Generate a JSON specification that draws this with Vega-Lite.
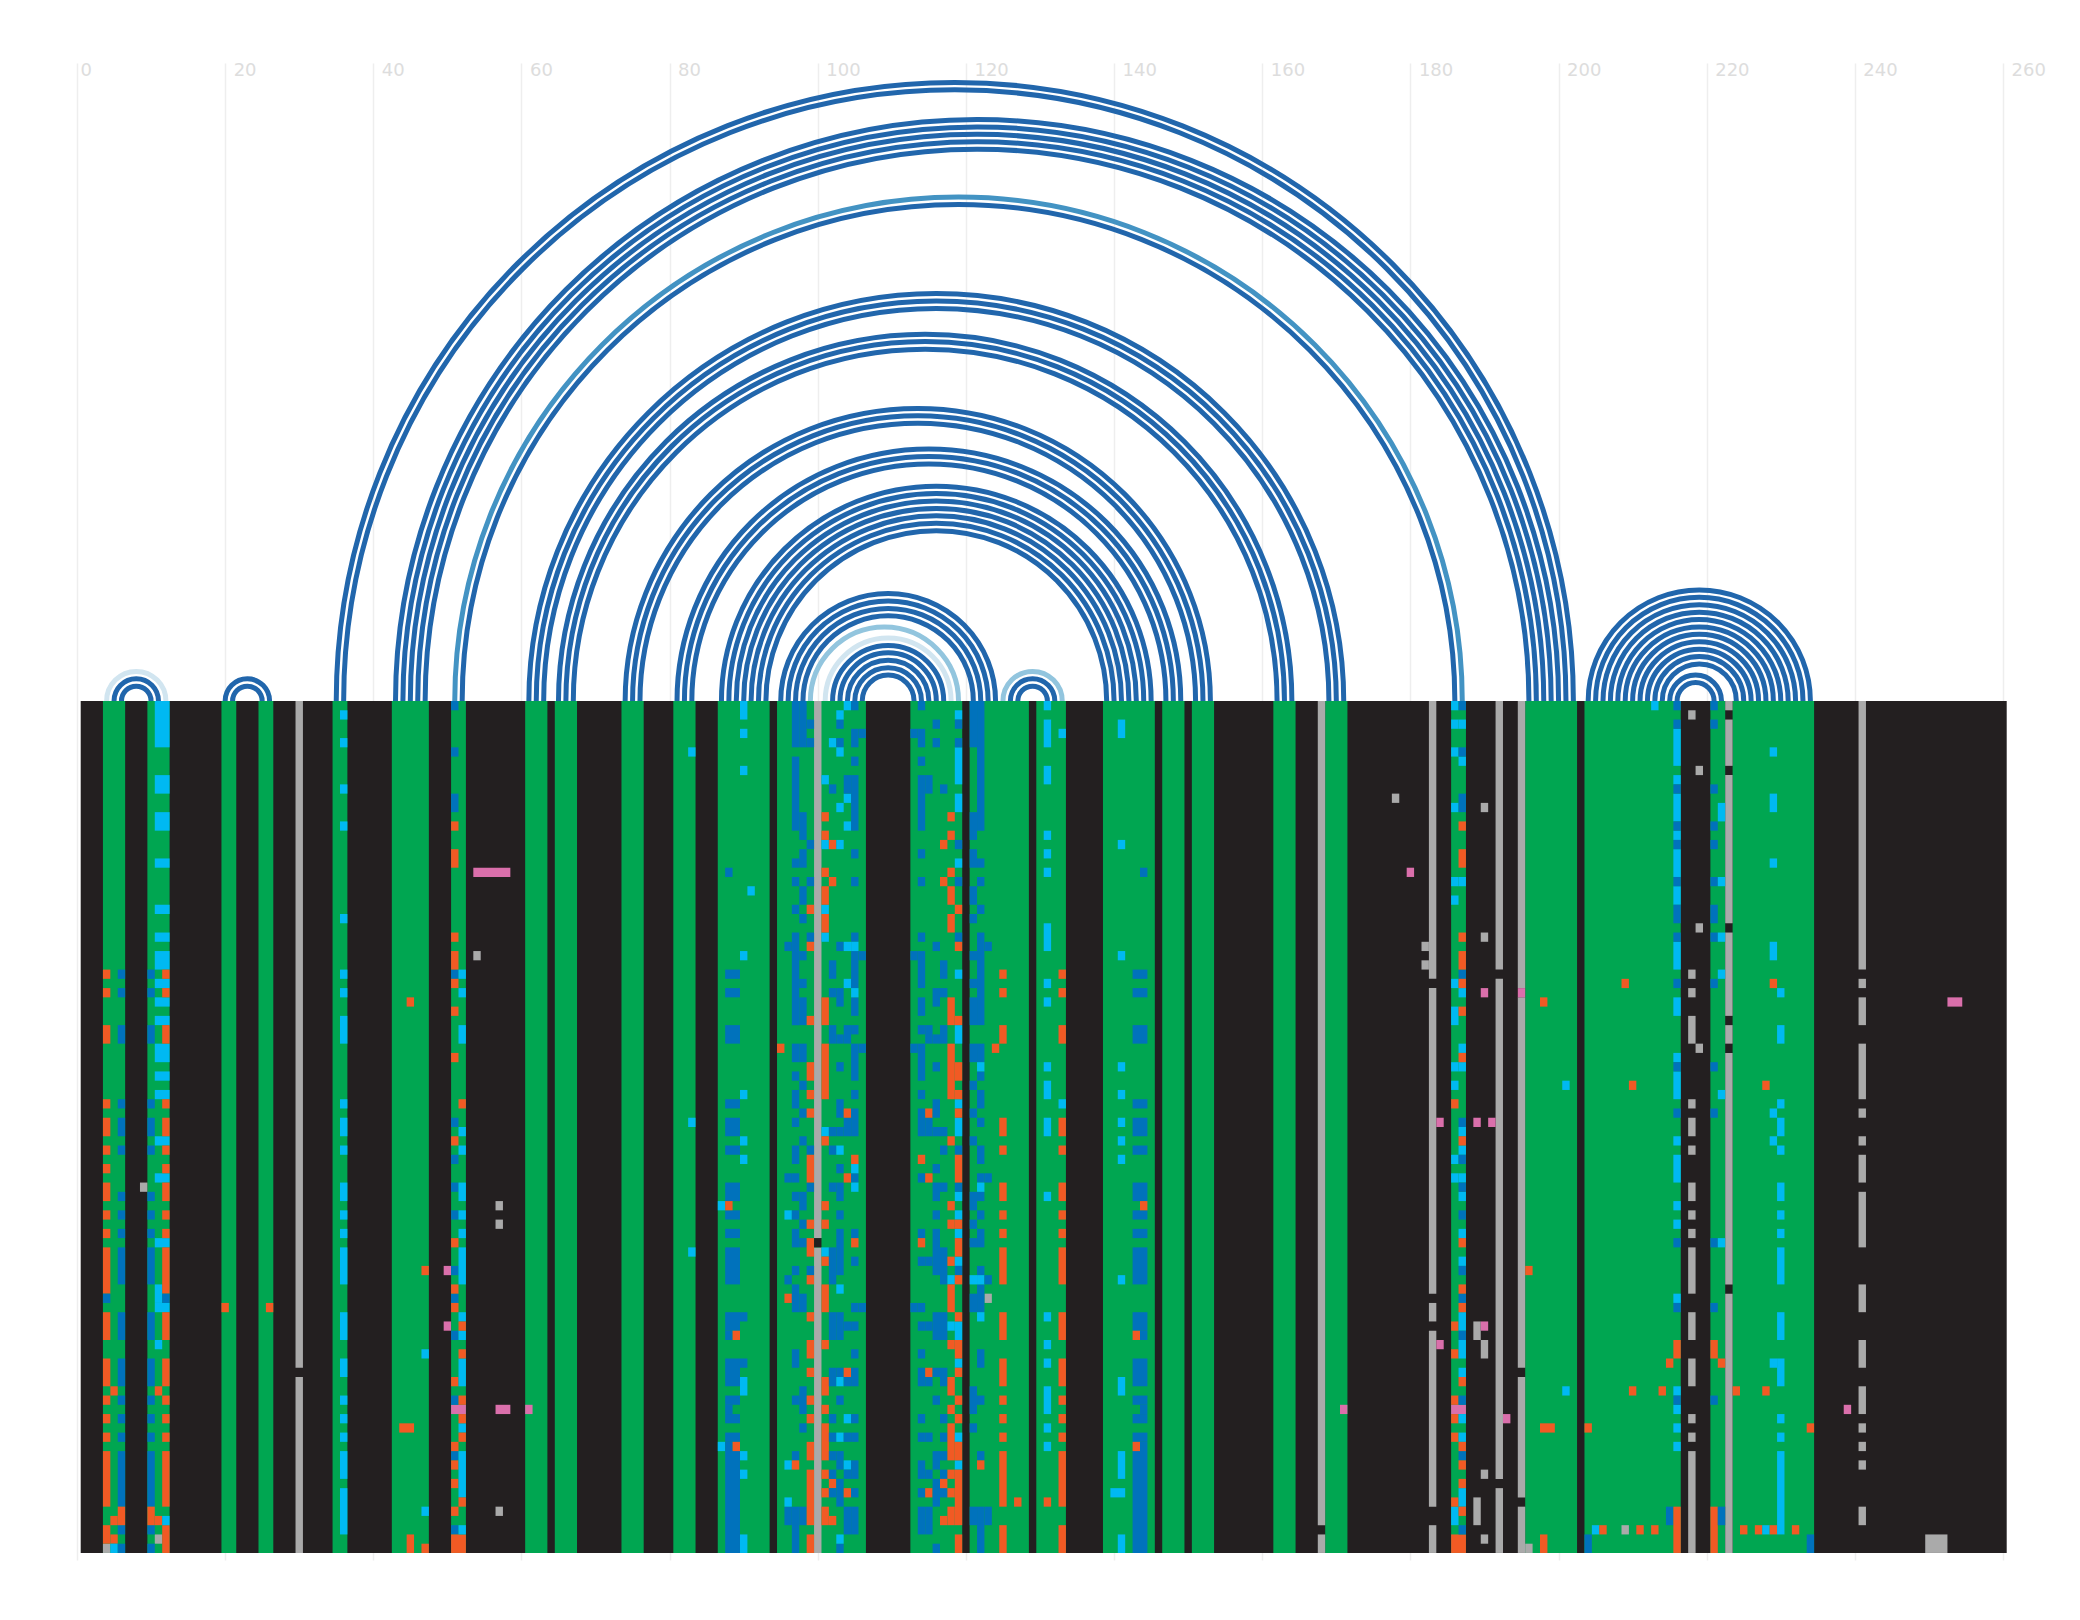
{"$schema":"https://vega.github.io/schema/vega-lite/v6.json","width":1926,"height":1497,"autosize":{"type":"none"},"padding":{"left":77,"top":63,"right":77,"bottom":60},"background":"white","view":{"stroke":null},
"layer":[
{"data":{"values":[
{"m":8,"r":4,"t":"L2"},{"m":8,"r":3,"t":"D"},{"m":8,"r":2,"t":"D"},{"m":23,"r":3,"t":"D"},{"m":23,"r":2,"t":"D"},
{"m":118.5,"r":83.5,"t":"D"},{"m":118.5,"r":82.5,"t":"D"},{"m":121.5,"r":78.5,"t":"D"},{"m":121.5,"r":77.5,"t":"D"},{"m":121.5,"r":76.5,"t":"D"},{"m":121.5,"r":75.5,"t":"D"},{"m":121.5,"r":74.5,"t":"D"},
{"m":119,"r":68,"t":"M"},{"m":119,"r":67,"t":"D"},
{"m":116,"r":55,"t":"D"},{"m":116,"r":54,"t":"D"},{"m":116,"r":53,"t":"D"},{"m":114.5,"r":49.5,"t":"D"},{"m":114.5,"r":48.5,"t":"D"},{"m":114.5,"r":47.5,"t":"D"},
{"m":113.5,"r":39.5,"t":"D"},{"m":113.5,"r":38.5,"t":"D"},{"m":113.5,"r":37.5,"t":"D"},{"m":115,"r":34,"t":"D"},{"m":115,"r":33,"t":"D"},{"m":115,"r":32,"t":"D"},
{"m":116,"r":29,"t":"D"},{"m":116,"r":28,"t":"D"},{"m":116,"r":27,"t":"D"},{"m":116,"r":26,"t":"D"},{"m":116,"r":25,"t":"D"},{"m":116,"r":24,"t":"D"},{"m":116,"r":23,"t":"D"},
{"m":109.5,"r":14.5,"t":"D"},{"m":109.5,"r":13.5,"t":"D"},{"m":109.5,"r":12.5,"t":"D"},{"m":109.5,"r":11.5,"t":"D"},{"m":109,"r":10,"t":"L1"},{"m":109.5,"r":8.5,"t":"L2"},{"m":109.5,"r":7.5,"t":"D"},{"m":109.5,"r":6.5,"t":"D"},{"m":109.5,"r":5.5,"t":"D"},{"m":109.5,"r":4.5,"t":"D"},{"m":109.5,"r":3.5,"t":"D"},
{"m":129,"r":4,"t":"L1"},{"m":129,"r":3,"t":"D"},{"m":129,"r":2,"t":"D"},
{"m":219,"r":15,"t":"D"},{"m":219,"r":14,"t":"D"},{"m":219,"r":13,"t":"D"},{"m":219,"r":12,"t":"D"},{"m":219,"r":11,"t":"D"},{"m":219,"r":10,"t":"D"},{"m":219,"r":9,"t":"D"},{"m":219,"r":8,"t":"D"},{"m":219,"r":7,"t":"D"},{"m":219,"r":6,"t":"D"},{"m":219,"r":5,"t":"D"},{"m":218.5,"r":3.5,"t":"D"},{"m":218.5,"r":2.5,"t":"D"}
]},
"mark":{"type":"arc","filled":false,"strokeWidth":5,"theta":-1.5708,"theta2":1.5708},
"encoding":{
"x":{"field":"m","type":"quantitative","stack":null,"title":null,"scale":{"domain":[0,260],"nice":false,"zero":false},"axis":{"orient":"top","values":[0,20,40,60,80,100,120,140,160,180,200,220,240,260],"title":null,"domain":false,"ticks":false,"grid":true,"gridColor":"#eeeeee","gridWidth":1.5,"labelColor":"#dddddd","labelFont":"DejaVu Sans","labelFontSize":18,"labelAlign":"left","labelBaseline":"middle","labelPadding":-7,"labelOffset":{"condition":{"test":"datum.value<10","value":3},"value":8},"labelOverlap":false,"labelFlush":false,"labelBound":false,"zindex":0}},
"y":{"datum":0,"type":"quantitative","stack":null,"scale":{"domain":[-68.9,92.76],"reverse":true,"nice":false,"zero":false},"axis":null},
"radius":{"field":"r","type":"quantitative","stack":null,"scale":{"type":"linear","domain":[0,100],"range":[0,740.8],"zero":true,"nice":false}},
"radius2":{"field":"r"},
"stroke":{"field":"t","type":"nominal","legend":null,"scale":{"domain":["D","M","L1","L2"],"range":["#2166ac","#4393c3","#92c5de","#d1e5f0"]}}
}},
{"data":{"values":[
{"a":0.5,"b":260.5,"r":0,"s":92,"k":"K"},
{"a":3.5,"b":6.5,"r":0,"s":92,"k":"N"},{"a":9.5,"b":12.5,"r":0,"s":92,"k":"N"},{"a":19.5,"b":21.5,"r":0,"s":92,"k":"N"},{"a":24.5,"b":26.5,"r":0,"s":92,"k":"N"},{"a":34.5,"b":36.5,"r":0,"s":92,"k":"N"},{"a":42.5,"b":47.5,"r":0,"s":92,"k":"N"},{"a":50.5,"b":52.5,"r":0,"s":92,"k":"N"},{"a":60.5,"b":63.5,"r":0,"s":92,"k":"N"},{"a":64.5,"b":67.5,"r":0,"s":92,"k":"N"},{"a":73.5,"b":76.5,"r":0,"s":92,"k":"N"},{"a":80.5,"b":83.5,"r":0,"s":92,"k":"N"},{"a":86.5,"b":93.5,"r":0,"s":92,"k":"N"},{"a":94.5,"b":106.5,"r":0,"s":92,"k":"N"},{"a":112.5,"b":119.5,"r":0,"s":92,"k":"N"},{"a":120.5,"b":128.5,"r":0,"s":92,"k":"N"},{"a":129.5,"b":133.5,"r":0,"s":92,"k":"N"},{"a":138.5,"b":145.5,"r":0,"s":92,"k":"N"},{"a":146.5,"b":149.5,"r":0,"s":92,"k":"N"},{"a":150.5,"b":153.5,"r":0,"s":92,"k":"N"},{"a":161.5,"b":164.5,"r":0,"s":92,"k":"N"},{"a":168.5,"b":171.5,"r":0,"s":92,"k":"N"},{"a":185.5,"b":187.5,"r":0,"s":92,"k":"N"},{"a":195.5,"b":202.5,"r":0,"s":92,"k":"N"},{"a":203.5,"b":216.5,"r":0,"s":92,"k":"N"},{"a":220.5,"b":222.5,"r":0,"s":92,"k":"N"},{"a":223.5,"b":234.5,"r":0,"s":92,"k":"N"},
{"a":29.5,"b":30.5,"r":0,"s":72,"k":"G"},{"a":29.5,"b":30.5,"r":73,"s":92,"k":"G"},
{"a":99.5,"b":100.5,"r":0,"s":58,"k":"G"},{"a":99.5,"b":100.5,"r":59,"s":92,"k":"G"},
{"a":167.5,"b":168.5,"r":0,"s":89,"k":"G"},{"a":167.5,"b":168.5,"r":90,"s":92,"k":"G"},
{"a":182.5,"b":183.5,"r":0,"s":30,"k":"G"},{"a":182.5,"b":183.5,"r":31,"s":64,"k":"G"},{"a":182.5,"b":183.5,"r":65,"s":67,"k":"G"},{"a":182.5,"b":183.5,"r":68,"s":87,"k":"G"},{"a":182.5,"b":183.5,"r":89,"s":92,"k":"G"},
{"a":181.5,"b":182.5,"r":26,"s":27,"k":"G"},{"a":181.5,"b":182.5,"r":28,"s":29,"k":"G"},
{"a":191.5,"b":192.5,"r":0,"s":29,"k":"G"},{"a":191.5,"b":192.5,"r":30,"s":84,"k":"G"},{"a":191.5,"b":192.5,"r":85,"s":92,"k":"G"},
{"a":194.5,"b":195.5,"r":0,"s":31,"k":"G"},{"a":194.5,"b":195.5,"r":32,"s":72,"k":"G"},{"a":194.5,"b":195.5,"r":73,"s":86,"k":"G"},{"a":194.5,"b":195.5,"r":87,"s":92,"k":"G"},{"a":195.5,"b":196.5,"r":91,"s":92,"k":"G"},
{"a":222.5,"b":223.5,"r":0,"s":1,"k":"G"},{"a":222.5,"b":223.5,"r":2,"s":7,"k":"G"},{"a":222.5,"b":223.5,"r":8,"s":24,"k":"G"},{"a":222.5,"b":223.5,"r":25,"s":34,"k":"G"},{"a":222.5,"b":223.5,"r":35,"s":37,"k":"G"},{"a":222.5,"b":223.5,"r":38,"s":63,"k":"G"},{"a":222.5,"b":223.5,"r":64,"s":92,"k":"G"},
{"a":240.5,"b":241.5,"r":0,"s":29,"k":"G"},{"a":240.5,"b":241.5,"r":30,"s":31,"k":"G"},{"a":240.5,"b":241.5,"r":32,"s":35,"k":"G"},{"a":240.5,"b":241.5,"r":37,"s":43,"k":"G"},{"a":240.5,"b":241.5,"r":44,"s":45,"k":"G"},{"a":240.5,"b":241.5,"r":47,"s":48,"k":"G"},{"a":240.5,"b":241.5,"r":49,"s":52,"k":"G"},{"a":240.5,"b":241.5,"r":53,"s":59,"k":"G"},{"a":240.5,"b":241.5,"r":63,"s":66,"k":"G"},{"a":240.5,"b":241.5,"r":69,"s":72,"k":"G"},{"a":240.5,"b":241.5,"r":74,"s":77,"k":"G"},{"a":240.5,"b":241.5,"r":78,"s":79,"k":"G"},{"a":240.5,"b":241.5,"r":80,"s":81,"k":"G"},{"a":240.5,"b":241.5,"r":82,"s":83,"k":"G"},{"a":240.5,"b":241.5,"r":87,"s":89,"k":"G"},
{"a":217.5,"b":218.5,"r":1,"s":2,"k":"G"},{"a":217.5,"b":218.5,"r":29,"s":30,"k":"G"},{"a":217.5,"b":218.5,"r":31,"s":32,"k":"G"},{"a":217.5,"b":218.5,"r":34,"s":37,"k":"G"},{"a":217.5,"b":218.5,"r":43,"s":44,"k":"G"},{"a":217.5,"b":218.5,"r":45,"s":47,"k":"G"},{"a":217.5,"b":218.5,"r":48,"s":49,"k":"G"},{"a":217.5,"b":218.5,"r":52,"s":54,"k":"G"},{"a":217.5,"b":218.5,"r":55,"s":56,"k":"G"},{"a":217.5,"b":218.5,"r":57,"s":58,"k":"G"},{"a":217.5,"b":218.5,"r":59,"s":64,"k":"G"},{"a":217.5,"b":218.5,"r":66,"s":69,"k":"G"},{"a":217.5,"b":218.5,"r":71,"s":74,"k":"G"},{"a":217.5,"b":218.5,"r":77,"s":78,"k":"G"},{"a":217.5,"b":218.5,"r":79,"s":80,"k":"G"},{"a":217.5,"b":218.5,"r":81,"s":92,"k":"G"},
{"a":218.5,"b":219.5,"r":7,"s":8,"k":"G"},{"a":218.5,"b":219.5,"r":24,"s":25,"k":"G"},{"a":218.5,"b":219.5,"r":37,"s":38,"k":"G"},
{"a":188.5,"b":189.5,"r":67,"s":69,"k":"G"},{"a":188.5,"b":189.5,"r":86,"s":89,"k":"G"},
{"a":189.5,"b":190.5,"r":11,"s":12,"k":"G"},{"a":189.5,"b":190.5,"r":25,"s":26,"k":"G"},{"a":189.5,"b":190.5,"r":69,"s":71,"k":"G"},{"a":189.5,"b":190.5,"r":83,"s":84,"k":"G"},{"a":189.5,"b":190.5,"r":90,"s":91,"k":"G"},
{"a":249.5,"b":252.5,"r":90,"s":92,"k":"G"},{"a":177.5,"b":178.5,"r":10,"s":11,"k":"G"},
{"a":8.5,"b":9.5,"r":52,"s":53,"k":"G"},{"a":53.5,"b":54.5,"r":27,"s":28,"k":"G"},{"a":56.5,"b":57.5,"r":54,"s":55,"k":"G"},{"a":56.5,"b":57.5,"r":56,"s":57,"k":"G"},{"a":56.5,"b":57.5,"r":87,"s":88,"k":"G"},
{"a":122.5,"b":123.5,"r":64,"s":65,"k":"G"},{"a":208.5,"b":209.5,"r":89,"s":90,"k":"G"},{"a":3.5,"b":4.5,"r":91,"s":92,"k":"G"},{"a":10.5,"b":11.5,"r":90,"s":91,"k":"G"},
{"a":53.5,"b":58.5,"r":18,"s":19,"k":"P"},{"a":56.5,"b":58.5,"r":76,"s":77,"k":"P"},{"a":60.5,"b":61.5,"r":76,"s":77,"k":"P"},{"a":49.5,"b":50.5,"r":61,"s":62,"k":"P"},{"a":49.5,"b":50.5,"r":67,"s":68,"k":"P"},{"a":50.5,"b":52.5,"r":76,"s":77,"k":"P"},{"a":170.5,"b":171.5,"r":76,"s":77,"k":"P"},{"a":179.5,"b":180.5,"r":18,"s":19,"k":"P"},{"a":183.5,"b":184.5,"r":45,"s":46,"k":"P"},{"a":183.5,"b":184.5,"r":69,"s":70,"k":"P"},{"a":188.5,"b":189.5,"r":45,"s":46,"k":"P"},{"a":190.5,"b":191.5,"r":45,"s":46,"k":"P"},{"a":189.5,"b":190.5,"r":31,"s":32,"k":"P"},{"a":189.5,"b":190.5,"r":67,"s":68,"k":"P"},{"a":192.5,"b":193.5,"r":77,"s":78,"k":"P"},{"a":194.5,"b":195.5,"r":31,"s":32,"k":"P"},{"a":238.5,"b":239.5,"r":76,"s":77,"k":"P"},{"a":252.5,"b":254.5,"r":32,"s":33,"k":"P"},{"a":185.5,"b":187.5,"r":76,"s":77,"k":"P"},
{"a":3.5,"b":4.5,"r":29,"s":30,"k":"O"},{"a":3.5,"b":4.5,"r":31,"s":32,"k":"O"},{"a":3.5,"b":4.5,"r":35,"s":37,"k":"O"},{"a":3.5,"b":4.5,"r":43,"s":44,"k":"O"},{"a":3.5,"b":4.5,"r":45,"s":47,"k":"O"},{"a":3.5,"b":4.5,"r":48,"s":49,"k":"O"},{"a":3.5,"b":4.5,"r":50,"s":51,"k":"O"},{"a":3.5,"b":4.5,"r":52,"s":54,"k":"O"},{"a":3.5,"b":4.5,"r":55,"s":56,"k":"O"},{"a":3.5,"b":4.5,"r":57,"s":58,"k":"O"},{"a":3.5,"b":4.5,"r":59,"s":64,"k":"O"},{"a":3.5,"b":4.5,"r":66,"s":69,"k":"O"},{"a":3.5,"b":4.5,"r":71,"s":74,"k":"O"},{"a":3.5,"b":4.5,"r":75,"s":76,"k":"O"},{"a":3.5,"b":4.5,"r":77,"s":78,"k":"O"},{"a":3.5,"b":4.5,"r":79,"s":80,"k":"O"},{"a":3.5,"b":4.5,"r":81,"s":87,"k":"O"},{"a":3.5,"b":4.5,"r":89,"s":91,"k":"O"},{"a":3.5,"b":4.5,"r":64,"s":65,"k":"B"},
{"a":4.5,"b":5.5,"r":74,"s":75,"k":"O"},{"a":4.5,"b":5.5,"r":88,"s":89,"k":"O"},{"a":4.5,"b":5.5,"r":90,"s":91,"k":"O"},{"a":4.5,"b":5.5,"r":91,"s":92,"k":"C"},
{"a":5.5,"b":6.5,"r":29,"s":30,"k":"B"},{"a":5.5,"b":6.5,"r":31,"s":32,"k":"B"},{"a":5.5,"b":6.5,"r":35,"s":37,"k":"B"},{"a":5.5,"b":6.5,"r":43,"s":44,"k":"B"},{"a":5.5,"b":6.5,"r":45,"s":47,"k":"B"},{"a":5.5,"b":6.5,"r":48,"s":49,"k":"B"},{"a":5.5,"b":6.5,"r":53,"s":54,"k":"B"},{"a":5.5,"b":6.5,"r":55,"s":56,"k":"B"},{"a":5.5,"b":6.5,"r":57,"s":58,"k":"B"},{"a":5.5,"b":6.5,"r":59,"s":63,"k":"B"},{"a":5.5,"b":6.5,"r":66,"s":69,"k":"B"},{"a":5.5,"b":6.5,"r":71,"s":74,"k":"B"},{"a":5.5,"b":6.5,"r":75,"s":76,"k":"B"},{"a":5.5,"b":6.5,"r":77,"s":78,"k":"B"},{"a":5.5,"b":6.5,"r":79,"s":80,"k":"B"},{"a":5.5,"b":6.5,"r":81,"s":87,"k":"B"},{"a":5.5,"b":6.5,"r":89,"s":90,"k":"B"},{"a":5.5,"b":6.5,"r":91,"s":92,"k":"B"},{"a":5.5,"b":6.5,"r":87,"s":89,"k":"O"},
{"a":9.5,"b":10.5,"r":29,"s":30,"k":"B"},{"a":9.5,"b":10.5,"r":31,"s":32,"k":"B"},{"a":9.5,"b":10.5,"r":35,"s":37,"k":"B"},{"a":9.5,"b":10.5,"r":43,"s":44,"k":"B"},{"a":9.5,"b":10.5,"r":45,"s":47,"k":"B"},{"a":9.5,"b":10.5,"r":48,"s":49,"k":"B"},{"a":9.5,"b":10.5,"r":53,"s":54,"k":"B"},{"a":9.5,"b":10.5,"r":55,"s":56,"k":"B"},{"a":9.5,"b":10.5,"r":57,"s":58,"k":"B"},{"a":9.5,"b":10.5,"r":59,"s":63,"k":"B"},{"a":9.5,"b":10.5,"r":66,"s":69,"k":"B"},{"a":9.5,"b":10.5,"r":71,"s":74,"k":"B"},{"a":9.5,"b":10.5,"r":75,"s":76,"k":"B"},{"a":9.5,"b":10.5,"r":77,"s":78,"k":"B"},{"a":9.5,"b":10.5,"r":79,"s":80,"k":"B"},{"a":9.5,"b":10.5,"r":81,"s":87,"k":"B"},{"a":9.5,"b":10.5,"r":89,"s":90,"k":"B"},{"a":9.5,"b":10.5,"r":91,"s":92,"k":"B"},{"a":9.5,"b":10.5,"r":87,"s":89,"k":"O"},
{"a":10.5,"b":12.5,"r":0,"s":5,"k":"C"},{"a":10.5,"b":12.5,"r":8,"s":10,"k":"C"},{"a":10.5,"b":12.5,"r":12,"s":14,"k":"C"},{"a":10.5,"b":12.5,"r":17,"s":18,"k":"C"},{"a":10.5,"b":12.5,"r":22,"s":23,"k":"C"},{"a":10.5,"b":12.5,"r":25,"s":26,"k":"C"},{"a":10.5,"b":12.5,"r":27,"s":29,"k":"C"},{"a":10.5,"b":12.5,"r":30,"s":31,"k":"C"},{"a":10.5,"b":12.5,"r":32,"s":33,"k":"C"},{"a":10.5,"b":12.5,"r":34,"s":35,"k":"C"},{"a":10.5,"b":12.5,"r":37,"s":39,"k":"C"},{"a":10.5,"b":12.5,"r":40,"s":41,"k":"C"},{"a":10.5,"b":12.5,"r":42,"s":43,"k":"C"},{"a":10.5,"b":12.5,"r":47,"s":48,"k":"C"},{"a":10.5,"b":12.5,"r":51,"s":52,"k":"C"},{"a":10.5,"b":12.5,"r":58,"s":59,"k":"C"},{"a":10.5,"b":12.5,"r":65,"s":66,"k":"C"},{"a":10.5,"b":11.5,"r":63,"s":65,"k":"C"},{"a":10.5,"b":11.5,"r":69,"s":70,"k":"C"},{"a":10.5,"b":11.5,"r":74,"s":75,"k":"O"},{"a":10.5,"b":11.5,"r":88,"s":89,"k":"O"},
{"a":11.5,"b":12.5,"r":29,"s":30,"k":"O"},{"a":11.5,"b":12.5,"r":31,"s":32,"k":"O"},{"a":11.5,"b":12.5,"r":35,"s":37,"k":"O"},{"a":11.5,"b":12.5,"r":43,"s":44,"k":"O"},{"a":11.5,"b":12.5,"r":45,"s":47,"k":"O"},{"a":11.5,"b":12.5,"r":48,"s":49,"k":"O"},{"a":11.5,"b":12.5,"r":50,"s":51,"k":"O"},{"a":11.5,"b":12.5,"r":52,"s":54,"k":"O"},{"a":11.5,"b":12.5,"r":55,"s":56,"k":"O"},{"a":11.5,"b":12.5,"r":57,"s":58,"k":"O"},{"a":11.5,"b":12.5,"r":59,"s":64,"k":"O"},{"a":11.5,"b":12.5,"r":66,"s":69,"k":"O"},{"a":11.5,"b":12.5,"r":71,"s":74,"k":"O"},{"a":11.5,"b":12.5,"r":75,"s":76,"k":"O"},{"a":11.5,"b":12.5,"r":77,"s":78,"k":"O"},{"a":11.5,"b":12.5,"r":79,"s":80,"k":"O"},{"a":11.5,"b":12.5,"r":81,"s":87,"k":"O"},{"a":11.5,"b":12.5,"r":89,"s":92,"k":"O"},{"a":11.5,"b":12.5,"r":64,"s":65,"k":"B"},{"a":11.5,"b":12.5,"r":88,"s":89,"k":"C"},
{"a":19.5,"b":20.5,"r":65,"s":66,"k":"O"},{"a":25.5,"b":26.5,"r":65,"s":66,"k":"O"},
{"a":35.5,"b":36.5,"r":1,"s":2,"k":"C"},{"a":35.5,"b":36.5,"r":4,"s":5,"k":"C"},{"a":35.5,"b":36.5,"r":9,"s":10,"k":"C"},{"a":35.5,"b":36.5,"r":13,"s":14,"k":"C"},{"a":35.5,"b":36.5,"r":23,"s":24,"k":"C"},{"a":35.5,"b":36.5,"r":29,"s":30,"k":"C"},{"a":35.5,"b":36.5,"r":31,"s":32,"k":"C"},{"a":35.5,"b":36.5,"r":34,"s":37,"k":"C"},{"a":35.5,"b":36.5,"r":43,"s":44,"k":"C"},{"a":35.5,"b":36.5,"r":45,"s":47,"k":"C"},{"a":35.5,"b":36.5,"r":48,"s":49,"k":"C"},{"a":35.5,"b":36.5,"r":52,"s":54,"k":"C"},{"a":35.5,"b":36.5,"r":55,"s":56,"k":"C"},{"a":35.5,"b":36.5,"r":57,"s":58,"k":"C"},{"a":35.5,"b":36.5,"r":59,"s":63,"k":"C"},{"a":35.5,"b":36.5,"r":66,"s":69,"k":"C"},{"a":35.5,"b":36.5,"r":71,"s":73,"k":"C"},{"a":35.5,"b":36.5,"r":75,"s":76,"k":"C"},{"a":35.5,"b":36.5,"r":77,"s":78,"k":"C"},{"a":35.5,"b":36.5,"r":79,"s":80,"k":"C"},{"a":35.5,"b":36.5,"r":81,"s":84,"k":"C"},{"a":35.5,"b":36.5,"r":85,"s":90,"k":"C"},
{"a":43.5,"b":45.5,"r":78,"s":79,"k":"O"},{"a":44.5,"b":45.5,"r":32,"s":33,"k":"O"},{"a":44.5,"b":45.5,"r":90,"s":92,"k":"O"},{"a":46.5,"b":47.5,"r":61,"s":62,"k":"O"},{"a":46.5,"b":47.5,"r":91,"s":92,"k":"O"},{"a":46.5,"b":47.5,"r":70,"s":71,"k":"C"},{"a":46.5,"b":47.5,"r":87,"s":88,"k":"C"},
{"a":50.5,"b":51.5,"r":0,"s":1,"k":"B"},{"a":50.5,"b":51.5,"r":5,"s":6,"k":"B"},{"a":50.5,"b":51.5,"r":10,"s":12,"k":"B"},{"a":50.5,"b":51.5,"r":29,"s":30,"k":"B"},{"a":50.5,"b":51.5,"r":45,"s":46,"k":"B"},{"a":50.5,"b":51.5,"r":49,"s":50,"k":"B"},{"a":50.5,"b":51.5,"r":52,"s":53,"k":"B"},{"a":50.5,"b":51.5,"r":55,"s":56,"k":"B"},{"a":50.5,"b":51.5,"r":61,"s":62,"k":"B"},{"a":50.5,"b":51.5,"r":64,"s":65,"k":"B"},{"a":50.5,"b":51.5,"r":68,"s":69,"k":"B"},{"a":50.5,"b":51.5,"r":75,"s":76,"k":"B"},{"a":50.5,"b":51.5,"r":81,"s":82,"k":"B"},{"a":50.5,"b":51.5,"r":89,"s":90,"k":"B"},
{"a":50.5,"b":51.5,"r":13,"s":14,"k":"O"},{"a":50.5,"b":51.5,"r":16,"s":18,"k":"O"},{"a":50.5,"b":51.5,"r":25,"s":26,"k":"O"},{"a":50.5,"b":51.5,"r":27,"s":29,"k":"O"},{"a":50.5,"b":51.5,"r":30,"s":31,"k":"O"},{"a":50.5,"b":51.5,"r":33,"s":34,"k":"O"},{"a":50.5,"b":51.5,"r":38,"s":39,"k":"O"},{"a":50.5,"b":51.5,"r":47,"s":48,"k":"O"},{"a":50.5,"b":51.5,"r":58,"s":59,"k":"O"},{"a":50.5,"b":51.5,"r":63,"s":64,"k":"O"},{"a":50.5,"b":51.5,"r":65,"s":66,"k":"O"},{"a":50.5,"b":51.5,"r":73,"s":74,"k":"O"},{"a":50.5,"b":51.5,"r":80,"s":81,"k":"O"},{"a":50.5,"b":51.5,"r":82,"s":83,"k":"O"},{"a":50.5,"b":51.5,"r":84,"s":85,"k":"O"},{"a":50.5,"b":51.5,"r":87,"s":88,"k":"O"},{"a":50.5,"b":52.5,"r":90,"s":92,"k":"O"},
{"a":51.5,"b":52.5,"r":29,"s":30,"k":"C"},{"a":51.5,"b":52.5,"r":31,"s":32,"k":"C"},{"a":51.5,"b":52.5,"r":35,"s":37,"k":"C"},{"a":51.5,"b":52.5,"r":46,"s":47,"k":"C"},{"a":51.5,"b":52.5,"r":48,"s":49,"k":"C"},{"a":51.5,"b":52.5,"r":52,"s":54,"k":"C"},{"a":51.5,"b":52.5,"r":55,"s":56,"k":"C"},{"a":51.5,"b":52.5,"r":57,"s":58,"k":"C"},{"a":51.5,"b":52.5,"r":59,"s":63,"k":"C"},{"a":51.5,"b":52.5,"r":66,"s":67,"k":"C"},{"a":51.5,"b":52.5,"r":68,"s":69,"k":"C"},{"a":51.5,"b":52.5,"r":71,"s":74,"k":"C"},{"a":51.5,"b":52.5,"r":78,"s":79,"k":"C"},{"a":51.5,"b":52.5,"r":81,"s":86,"k":"C"},{"a":51.5,"b":52.5,"r":89,"s":90,"k":"C"},
{"a":51.5,"b":52.5,"r":43,"s":44,"k":"O"},{"a":51.5,"b":52.5,"r":67,"s":68,"k":"O"},{"a":51.5,"b":52.5,"r":70,"s":71,"k":"O"},{"a":51.5,"b":52.5,"r":75,"s":76,"k":"O"},{"a":51.5,"b":52.5,"r":77,"s":78,"k":"O"},{"a":51.5,"b":52.5,"r":79,"s":80,"k":"O"},{"a":51.5,"b":52.5,"r":86,"s":87,"k":"O"},
{"a":82.5,"b":83.5,"r":5,"s":6,"k":"C"},{"a":82.5,"b":83.5,"r":45,"s":46,"k":"C"},{"a":82.5,"b":83.5,"r":59,"s":60,"k":"C"},
{"a":86.5,"b":87.5,"r":54,"s":55,"k":"C"},{"a":86.5,"b":87.5,"r":80,"s":81,"k":"C"},
{"a":87.5,"b":88.5,"r":18,"s":19,"k":"B"},{"a":87.5,"b":89.5,"r":29,"s":30,"k":"B"},{"a":87.5,"b":89.5,"r":31,"s":32,"k":"B"},{"a":87.5,"b":89.5,"r":35,"s":37,"k":"B"},{"a":87.5,"b":89.5,"r":43,"s":44,"k":"B"},{"a":87.5,"b":89.5,"r":45,"s":47,"k":"B"},{"a":87.5,"b":89.5,"r":48,"s":49,"k":"B"},{"a":87.5,"b":89.5,"r":52,"s":54,"k":"B"},{"a":87.5,"b":89.5,"r":55,"s":56,"k":"B"},{"a":87.5,"b":89.5,"r":57,"s":58,"k":"B"},{"a":87.5,"b":89.5,"r":59,"s":63,"k":"B"},{"a":87.5,"b":89.5,"r":66,"s":68,"k":"B"},{"a":87.5,"b":88.5,"r":68,"s":69,"k":"B"},{"a":87.5,"b":89.5,"r":71,"s":74,"k":"B"},{"a":87.5,"b":89.5,"r":75,"s":76,"k":"B"},{"a":87.5,"b":88.5,"r":76,"s":77,"k":"B"},{"a":87.5,"b":89.5,"r":77,"s":78,"k":"B"},{"a":87.5,"b":89.5,"r":79,"s":80,"k":"B"},{"a":87.5,"b":88.5,"r":80,"s":81,"k":"B"},{"a":87.5,"b":89.5,"r":81,"s":92,"k":"B"},{"a":87.5,"b":88.5,"r":54,"s":55,"k":"O"},{"a":88.5,"b":89.5,"r":68,"s":69,"k":"O"},{"a":88.5,"b":89.5,"r":80,"s":81,"k":"O"},
{"a":89.5,"b":90.5,"r":0,"s":2,"k":"C"},{"a":89.5,"b":90.5,"r":3,"s":4,"k":"C"},{"a":89.5,"b":90.5,"r":7,"s":8,"k":"C"},{"a":89.5,"b":90.5,"r":27,"s":28,"k":"C"},{"a":89.5,"b":90.5,"r":42,"s":43,"k":"C"},{"a":89.5,"b":90.5,"r":47,"s":48,"k":"C"},{"a":89.5,"b":90.5,"r":49,"s":50,"k":"C"},{"a":89.5,"b":90.5,"r":73,"s":75,"k":"C"},{"a":89.5,"b":90.5,"r":81,"s":82,"k":"C"},{"a":89.5,"b":90.5,"r":83,"s":84,"k":"C"},{"a":89.5,"b":90.5,"r":90,"s":92,"k":"C"},{"a":89.5,"b":90.5,"r":66,"s":67,"k":"B"},{"a":89.5,"b":90.5,"r":71,"s":72,"k":"B"},{"a":90.5,"b":91.5,"r":20,"s":21,"k":"C"},
{"a":94.5,"b":95.5,"r":37,"s":38,"k":"O"},
{"a":95.5,"b":96.5,"r":26,"s":27,"k":"B"},{"a":95.5,"b":96.5,"r":51,"s":52,"k":"B"},{"a":95.5,"b":96.5,"r":62,"s":63,"k":"B"},{"a":95.5,"b":96.5,"r":87,"s":89,"k":"B"},{"a":95.5,"b":96.5,"r":55,"s":56,"k":"C"},{"a":95.5,"b":96.5,"r":82,"s":83,"k":"C"},{"a":95.5,"b":96.5,"r":86,"s":87,"k":"C"},{"a":95.5,"b":96.5,"r":64,"s":65,"k":"O"},
{"a":96.5,"b":97.5,"r":0,"s":5,"k":"B"},{"a":96.5,"b":97.5,"r":6,"s":14,"k":"B"},{"a":96.5,"b":97.5,"r":17,"s":18,"k":"B"},{"a":96.5,"b":97.5,"r":19,"s":20,"k":"B"},{"a":96.5,"b":97.5,"r":22,"s":23,"k":"B"},{"a":96.5,"b":97.5,"r":25,"s":35,"k":"B"},{"a":96.5,"b":97.5,"r":37,"s":39,"k":"B"},{"a":96.5,"b":97.5,"r":40,"s":41,"k":"B"},{"a":96.5,"b":97.5,"r":42,"s":44,"k":"B"},{"a":96.5,"b":97.5,"r":45,"s":46,"k":"B"},{"a":96.5,"b":97.5,"r":48,"s":50,"k":"B"},{"a":96.5,"b":97.5,"r":51,"s":52,"k":"B"},{"a":96.5,"b":97.5,"r":53,"s":54,"k":"B"},{"a":96.5,"b":97.5,"r":55,"s":56,"k":"B"},{"a":96.5,"b":97.5,"r":57,"s":59,"k":"B"},{"a":96.5,"b":97.5,"r":61,"s":62,"k":"B"},{"a":96.5,"b":97.5,"r":63,"s":66,"k":"B"},{"a":96.5,"b":97.5,"r":70,"s":72,"k":"B"},{"a":96.5,"b":97.5,"r":75,"s":76,"k":"B"},{"a":96.5,"b":97.5,"r":81,"s":82,"k":"B"},{"a":96.5,"b":97.5,"r":87,"s":92,"k":"B"},{"a":96.5,"b":97.5,"r":82,"s":83,"k":"O"},
{"a":97.5,"b":98.5,"r":0,"s":5,"k":"B"},{"a":97.5,"b":98.5,"r":12,"s":15,"k":"B"},{"a":97.5,"b":98.5,"r":16,"s":18,"k":"B"},{"a":97.5,"b":98.5,"r":20,"s":22,"k":"B"},{"a":97.5,"b":98.5,"r":23,"s":24,"k":"B"},{"a":97.5,"b":98.5,"r":27,"s":28,"k":"B"},{"a":97.5,"b":98.5,"r":30,"s":31,"k":"B"},{"a":97.5,"b":98.5,"r":32,"s":35,"k":"B"},{"a":97.5,"b":98.5,"r":37,"s":39,"k":"B"},{"a":97.5,"b":98.5,"r":41,"s":42,"k":"B"},{"a":97.5,"b":98.5,"r":44,"s":45,"k":"B"},{"a":97.5,"b":98.5,"r":47,"s":48,"k":"B"},{"a":97.5,"b":98.5,"r":53,"s":55,"k":"B"},{"a":97.5,"b":98.5,"r":56,"s":57,"k":"B"},{"a":97.5,"b":98.5,"r":58,"s":59,"k":"B"},{"a":97.5,"b":98.5,"r":64,"s":66,"k":"B"},{"a":97.5,"b":98.5,"r":74,"s":77,"k":"B"},{"a":97.5,"b":98.5,"r":78,"s":79,"k":"B"},{"a":97.5,"b":98.5,"r":87,"s":89,"k":"B"},
{"a":98.5,"b":99.5,"r":2,"s":3,"k":"B"},{"a":98.5,"b":99.5,"r":4,"s":5,"k":"B"},{"a":98.5,"b":99.5,"r":15,"s":16,"k":"B"},{"a":98.5,"b":99.5,"r":19,"s":20,"k":"B"},{"a":98.5,"b":99.5,"r":25,"s":26,"k":"B"},{"a":98.5,"b":99.5,"r":48,"s":49,"k":"B"},{"a":98.5,"b":99.5,"r":52,"s":53,"k":"B"},{"a":98.5,"b":99.5,"r":61,"s":62,"k":"B"},
{"a":98.5,"b":99.5,"r":22,"s":23,"k":"O"},{"a":98.5,"b":99.5,"r":26,"s":27,"k":"O"},{"a":98.5,"b":99.5,"r":34,"s":35,"k":"O"},{"a":98.5,"b":99.5,"r":39,"s":41,"k":"O"},{"a":98.5,"b":99.5,"r":42,"s":43,"k":"O"},{"a":98.5,"b":99.5,"r":44,"s":45,"k":"O"},{"a":98.5,"b":99.5,"r":49,"s":52,"k":"O"},{"a":98.5,"b":99.5,"r":56,"s":57,"k":"O"},{"a":98.5,"b":99.5,"r":58,"s":60,"k":"O"},{"a":98.5,"b":99.5,"r":62,"s":63,"k":"O"},{"a":98.5,"b":99.5,"r":66,"s":67,"k":"O"},{"a":98.5,"b":99.5,"r":69,"s":71,"k":"O"},{"a":98.5,"b":99.5,"r":72,"s":73,"k":"O"},{"a":98.5,"b":99.5,"r":75,"s":76,"k":"O"},{"a":98.5,"b":99.5,"r":77,"s":78,"k":"O"},{"a":98.5,"b":99.5,"r":80,"s":82,"k":"O"},{"a":98.5,"b":99.5,"r":83,"s":89,"k":"O"},{"a":98.5,"b":99.5,"r":90,"s":92,"k":"O"},
{"a":99.5,"b":100.5,"r":58,"s":59,"k":"K"},
{"a":100.5,"b":101.5,"r":8,"s":9,"k":"C"},{"a":100.5,"b":101.5,"r":15,"s":16,"k":"C"},{"a":100.5,"b":101.5,"r":22,"s":23,"k":"C"},{"a":100.5,"b":101.5,"r":25,"s":26,"k":"C"},{"a":100.5,"b":101.5,"r":46,"s":47,"k":"C"},{"a":100.5,"b":101.5,"r":59,"s":60,"k":"C"},
{"a":100.5,"b":101.5,"r":12,"s":13,"k":"O"},{"a":100.5,"b":101.5,"r":14,"s":15,"k":"O"},{"a":100.5,"b":101.5,"r":18,"s":19,"k":"O"},{"a":100.5,"b":101.5,"r":20,"s":22,"k":"O"},{"a":100.5,"b":101.5,"r":23,"s":25,"k":"O"},{"a":100.5,"b":101.5,"r":32,"s":35,"k":"O"},{"a":100.5,"b":101.5,"r":37,"s":43,"k":"O"},{"a":100.5,"b":101.5,"r":47,"s":48,"k":"O"},{"a":100.5,"b":101.5,"r":54,"s":55,"k":"O"},{"a":100.5,"b":101.5,"r":56,"s":57,"k":"O"},{"a":100.5,"b":101.5,"r":60,"s":61,"k":"O"},{"a":100.5,"b":101.5,"r":63,"s":66,"k":"O"},{"a":100.5,"b":101.5,"r":69,"s":70,"k":"O"},{"a":100.5,"b":101.5,"r":73,"s":75,"k":"O"},{"a":100.5,"b":101.5,"r":76,"s":77,"k":"O"},{"a":100.5,"b":101.5,"r":78,"s":82,"k":"O"},{"a":100.5,"b":101.5,"r":83,"s":84,"k":"O"},{"a":100.5,"b":101.5,"r":85,"s":86,"k":"O"},{"a":100.5,"b":101.5,"r":87,"s":89,"k":"O"},
{"a":101.5,"b":102.5,"r":4,"s":5,"k":"C"},{"a":101.5,"b":102.5,"r":15,"s":16,"k":"O"},{"a":101.5,"b":102.5,"r":19,"s":20,"k":"O"},{"a":101.5,"b":102.5,"r":84,"s":85,"k":"O"},{"a":101.5,"b":102.5,"r":88,"s":89,"k":"O"},
{"a":101.5,"b":102.5,"r":9,"s":10,"k":"B"},{"a":101.5,"b":102.5,"r":28,"s":30,"k":"B"},{"a":101.5,"b":102.5,"r":31,"s":32,"k":"B"},{"a":101.5,"b":102.5,"r":35,"s":37,"k":"B"},{"a":101.5,"b":102.5,"r":46,"s":47,"k":"B"},{"a":101.5,"b":102.5,"r":48,"s":49,"k":"B"},{"a":101.5,"b":102.5,"r":52,"s":53,"k":"B"},{"a":101.5,"b":102.5,"r":59,"s":63,"k":"B"},{"a":101.5,"b":102.5,"r":66,"s":69,"k":"B"},{"a":101.5,"b":102.5,"r":72,"s":74,"k":"B"},{"a":101.5,"b":102.5,"r":77,"s":78,"k":"B"},{"a":101.5,"b":102.5,"r":79,"s":80,"k":"B"},{"a":101.5,"b":102.5,"r":81,"s":82,"k":"B"},{"a":101.5,"b":102.5,"r":83,"s":84,"k":"B"},{"a":101.5,"b":102.5,"r":85,"s":86,"k":"B"},
{"a":102.5,"b":103.5,"r":2,"s":3,"k":"B"},{"a":102.5,"b":103.5,"r":4,"s":5,"k":"B"},{"a":102.5,"b":103.5,"r":26,"s":27,"k":"B"},{"a":102.5,"b":103.5,"r":31,"s":33,"k":"B"},{"a":102.5,"b":103.5,"r":36,"s":37,"k":"B"},{"a":102.5,"b":103.5,"r":39,"s":40,"k":"B"},{"a":102.5,"b":103.5,"r":43,"s":45,"k":"B"},{"a":102.5,"b":103.5,"r":46,"s":47,"k":"B"},{"a":102.5,"b":103.5,"r":50,"s":51,"k":"B"},{"a":102.5,"b":103.5,"r":52,"s":54,"k":"B"},{"a":102.5,"b":103.5,"r":55,"s":56,"k":"B"},{"a":102.5,"b":103.5,"r":57,"s":62,"k":"B"},{"a":102.5,"b":103.5,"r":66,"s":69,"k":"B"},{"a":102.5,"b":103.5,"r":72,"s":73,"k":"B"},{"a":102.5,"b":103.5,"r":75,"s":76,"k":"B"},{"a":102.5,"b":103.5,"r":81,"s":83,"k":"B"},{"a":102.5,"b":103.5,"r":84,"s":87,"k":"B"},{"a":102.5,"b":103.5,"r":91,"s":92,"k":"B"},
{"a":102.5,"b":103.5,"r":1,"s":2,"k":"C"},{"a":102.5,"b":103.5,"r":5,"s":6,"k":"C"},{"a":102.5,"b":103.5,"r":11,"s":12,"k":"C"},{"a":102.5,"b":103.5,"r":15,"s":16,"k":"C"},{"a":102.5,"b":103.5,"r":48,"s":49,"k":"C"},{"a":102.5,"b":103.5,"r":63,"s":64,"k":"C"},{"a":102.5,"b":103.5,"r":73,"s":74,"k":"C"},{"a":102.5,"b":103.5,"r":79,"s":80,"k":"C"},{"a":102.5,"b":103.5,"r":90,"s":91,"k":"C"},
{"a":103.5,"b":104.5,"r":0,"s":1,"k":"C"},{"a":103.5,"b":104.5,"r":10,"s":11,"k":"C"},{"a":103.5,"b":104.5,"r":13,"s":14,"k":"C"},{"a":103.5,"b":104.5,"r":26,"s":27,"k":"C"},{"a":103.5,"b":104.5,"r":30,"s":31,"k":"C"},{"a":103.5,"b":104.5,"r":77,"s":78,"k":"C"},{"a":103.5,"b":104.5,"r":82,"s":83,"k":"C"},
{"a":103.5,"b":104.5,"r":8,"s":10,"k":"B"},{"a":103.5,"b":104.5,"r":35,"s":37,"k":"B"},{"a":103.5,"b":104.5,"r":45,"s":47,"k":"B"},{"a":103.5,"b":104.5,"r":67,"s":68,"k":"B"},{"a":103.5,"b":104.5,"r":73,"s":74,"k":"B"},{"a":103.5,"b":104.5,"r":79,"s":80,"k":"B"},{"a":103.5,"b":104.5,"r":83,"s":84,"k":"B"},{"a":103.5,"b":104.5,"r":87,"s":90,"k":"B"},
{"a":103.5,"b":104.5,"r":44,"s":45,"k":"O"},{"a":103.5,"b":104.5,"r":51,"s":52,"k":"O"},{"a":103.5,"b":104.5,"r":72,"s":73,"k":"O"},{"a":103.5,"b":104.5,"r":85,"s":86,"k":"O"},
{"a":104.5,"b":105.5,"r":0,"s":1,"k":"B"},{"a":104.5,"b":105.5,"r":3,"s":5,"k":"B"},{"a":104.5,"b":105.5,"r":6,"s":7,"k":"B"},{"a":104.5,"b":105.5,"r":8,"s":14,"k":"B"},{"a":104.5,"b":105.5,"r":16,"s":17,"k":"B"},{"a":104.5,"b":105.5,"r":19,"s":20,"k":"B"},{"a":104.5,"b":105.5,"r":25,"s":26,"k":"B"},{"a":104.5,"b":105.5,"r":27,"s":31,"k":"B"},{"a":104.5,"b":105.5,"r":32,"s":34,"k":"B"},{"a":104.5,"b":105.5,"r":35,"s":36,"k":"B"},{"a":104.5,"b":105.5,"r":37,"s":41,"k":"B"},{"a":104.5,"b":105.5,"r":42,"s":43,"k":"B"},{"a":104.5,"b":105.5,"r":44,"s":47,"k":"B"},{"a":104.5,"b":105.5,"r":51,"s":52,"k":"B"},{"a":104.5,"b":105.5,"r":57,"s":58,"k":"B"},{"a":104.5,"b":105.5,"r":60,"s":61,"k":"B"},{"a":104.5,"b":105.5,"r":65,"s":66,"k":"B"},{"a":104.5,"b":105.5,"r":67,"s":68,"k":"B"},{"a":104.5,"b":105.5,"r":70,"s":71,"k":"B"},{"a":104.5,"b":105.5,"r":72,"s":74,"k":"B"},{"a":104.5,"b":105.5,"r":77,"s":78,"k":"B"},{"a":104.5,"b":105.5,"r":79,"s":80,"k":"B"},{"a":104.5,"b":105.5,"r":82,"s":84,"k":"B"},{"a":104.5,"b":105.5,"r":85,"s":86,"k":"B"},{"a":104.5,"b":105.5,"r":87,"s":90,"k":"B"},
{"a":104.5,"b":105.5,"r":26,"s":27,"k":"C"},{"a":104.5,"b":105.5,"r":31,"s":32,"k":"C"},{"a":104.5,"b":105.5,"r":50,"s":51,"k":"C"},{"a":104.5,"b":105.5,"r":52,"s":53,"k":"C"},{"a":104.5,"b":105.5,"r":49,"s":50,"k":"O"},{"a":104.5,"b":105.5,"r":58,"s":59,"k":"O"},
{"a":105.5,"b":106.5,"r":3,"s":4,"k":"B"},{"a":105.5,"b":106.5,"r":27,"s":28,"k":"B"},{"a":105.5,"b":106.5,"r":37,"s":38,"k":"B"},{"a":105.5,"b":106.5,"r":65,"s":66,"k":"B"},
{"a":112.5,"b":113.5,"r":3,"s":4,"k":"B"},{"a":112.5,"b":113.5,"r":27,"s":28,"k":"B"},{"a":112.5,"b":113.5,"r":37,"s":38,"k":"B"},{"a":112.5,"b":113.5,"r":65,"s":66,"k":"B"},
{"a":113.5,"b":114.5,"r":0,"s":1,"k":"B"},{"a":113.5,"b":114.5,"r":3,"s":5,"k":"B"},{"a":113.5,"b":114.5,"r":6,"s":7,"k":"B"},{"a":113.5,"b":114.5,"r":8,"s":14,"k":"B"},{"a":113.5,"b":114.5,"r":16,"s":17,"k":"B"},{"a":113.5,"b":114.5,"r":19,"s":20,"k":"B"},{"a":113.5,"b":114.5,"r":25,"s":26,"k":"B"},{"a":113.5,"b":114.5,"r":27,"s":31,"k":"B"},{"a":113.5,"b":114.5,"r":32,"s":34,"k":"B"},{"a":113.5,"b":114.5,"r":35,"s":36,"k":"B"},{"a":113.5,"b":114.5,"r":37,"s":41,"k":"B"},{"a":113.5,"b":114.5,"r":42,"s":43,"k":"B"},{"a":113.5,"b":114.5,"r":44,"s":47,"k":"B"},{"a":113.5,"b":114.5,"r":51,"s":52,"k":"B"},{"a":113.5,"b":114.5,"r":57,"s":58,"k":"B"},{"a":113.5,"b":114.5,"r":60,"s":61,"k":"B"},{"a":113.5,"b":114.5,"r":65,"s":66,"k":"B"},{"a":113.5,"b":114.5,"r":67,"s":68,"k":"B"},{"a":113.5,"b":114.5,"r":70,"s":71,"k":"B"},{"a":113.5,"b":114.5,"r":72,"s":74,"k":"B"},{"a":113.5,"b":114.5,"r":77,"s":78,"k":"B"},{"a":113.5,"b":114.5,"r":79,"s":80,"k":"B"},{"a":113.5,"b":114.5,"r":82,"s":84,"k":"B"},{"a":113.5,"b":114.5,"r":85,"s":86,"k":"B"},{"a":113.5,"b":114.5,"r":87,"s":90,"k":"B"},{"a":113.5,"b":114.5,"r":49,"s":50,"k":"O"},{"a":113.5,"b":114.5,"r":58,"s":59,"k":"O"},
{"a":114.5,"b":115.5,"r":8,"s":10,"k":"B"},{"a":114.5,"b":115.5,"r":35,"s":37,"k":"B"},{"a":114.5,"b":115.5,"r":45,"s":47,"k":"B"},{"a":114.5,"b":115.5,"r":60,"s":61,"k":"B"},{"a":114.5,"b":115.5,"r":67,"s":68,"k":"B"},{"a":114.5,"b":115.5,"r":73,"s":74,"k":"B"},{"a":114.5,"b":115.5,"r":79,"s":80,"k":"B"},{"a":114.5,"b":115.5,"r":83,"s":84,"k":"B"},{"a":114.5,"b":115.5,"r":87,"s":90,"k":"B"},{"a":114.5,"b":115.5,"r":44,"s":45,"k":"O"},{"a":114.5,"b":115.5,"r":51,"s":52,"k":"O"},{"a":114.5,"b":115.5,"r":72,"s":73,"k":"O"},{"a":114.5,"b":115.5,"r":85,"s":86,"k":"O"},
{"a":115.5,"b":116.5,"r":2,"s":3,"k":"B"},{"a":115.5,"b":116.5,"r":4,"s":5,"k":"B"},{"a":115.5,"b":116.5,"r":26,"s":27,"k":"B"},{"a":115.5,"b":116.5,"r":31,"s":33,"k":"B"},{"a":115.5,"b":116.5,"r":36,"s":37,"k":"B"},{"a":115.5,"b":116.5,"r":39,"s":40,"k":"B"},{"a":115.5,"b":116.5,"r":43,"s":45,"k":"B"},{"a":115.5,"b":116.5,"r":46,"s":47,"k":"B"},{"a":115.5,"b":116.5,"r":50,"s":51,"k":"B"},{"a":115.5,"b":116.5,"r":52,"s":54,"k":"B"},{"a":115.5,"b":116.5,"r":55,"s":56,"k":"B"},{"a":115.5,"b":116.5,"r":57,"s":62,"k":"B"},{"a":115.5,"b":116.5,"r":66,"s":69,"k":"B"},{"a":115.5,"b":116.5,"r":72,"s":73,"k":"B"},{"a":115.5,"b":116.5,"r":75,"s":76,"k":"B"},{"a":115.5,"b":116.5,"r":81,"s":83,"k":"B"},{"a":115.5,"b":116.5,"r":84,"s":87,"k":"B"},{"a":115.5,"b":116.5,"r":91,"s":92,"k":"B"},
{"a":116.5,"b":117.5,"r":9,"s":10,"k":"B"},{"a":116.5,"b":117.5,"r":28,"s":30,"k":"B"},{"a":116.5,"b":117.5,"r":31,"s":32,"k":"B"},{"a":116.5,"b":117.5,"r":35,"s":37,"k":"B"},{"a":116.5,"b":117.5,"r":46,"s":47,"k":"B"},{"a":116.5,"b":117.5,"r":48,"s":49,"k":"B"},{"a":116.5,"b":117.5,"r":52,"s":53,"k":"B"},{"a":116.5,"b":117.5,"r":59,"s":63,"k":"B"},{"a":116.5,"b":117.5,"r":66,"s":69,"k":"B"},{"a":116.5,"b":117.5,"r":72,"s":74,"k":"B"},{"a":116.5,"b":117.5,"r":77,"s":78,"k":"B"},{"a":116.5,"b":117.5,"r":79,"s":80,"k":"B"},{"a":116.5,"b":117.5,"r":81,"s":82,"k":"B"},{"a":116.5,"b":117.5,"r":83,"s":84,"k":"B"},{"a":116.5,"b":117.5,"r":85,"s":86,"k":"B"},{"a":116.5,"b":117.5,"r":15,"s":16,"k":"O"},{"a":116.5,"b":117.5,"r":19,"s":20,"k":"O"},{"a":116.5,"b":117.5,"r":84,"s":85,"k":"O"},{"a":116.5,"b":117.5,"r":88,"s":89,"k":"O"},
{"a":117.5,"b":118.5,"r":62,"s":63,"k":"C"},{"a":117.5,"b":118.5,"r":67,"s":68,"k":"C"},
{"a":117.5,"b":118.5,"r":12,"s":13,"k":"O"},{"a":117.5,"b":118.5,"r":14,"s":15,"k":"O"},{"a":117.5,"b":118.5,"r":18,"s":19,"k":"O"},{"a":117.5,"b":118.5,"r":20,"s":22,"k":"O"},{"a":117.5,"b":118.5,"r":23,"s":25,"k":"O"},{"a":117.5,"b":118.5,"r":32,"s":35,"k":"O"},{"a":117.5,"b":118.5,"r":37,"s":43,"k":"O"},{"a":117.5,"b":118.5,"r":47,"s":48,"k":"O"},{"a":117.5,"b":118.5,"r":54,"s":55,"k":"O"},{"a":117.5,"b":118.5,"r":56,"s":57,"k":"O"},{"a":117.5,"b":118.5,"r":60,"s":61,"k":"O"},{"a":117.5,"b":118.5,"r":63,"s":66,"k":"O"},{"a":117.5,"b":118.5,"r":69,"s":70,"k":"O"},{"a":117.5,"b":118.5,"r":73,"s":75,"k":"O"},{"a":117.5,"b":118.5,"r":76,"s":77,"k":"O"},{"a":117.5,"b":118.5,"r":78,"s":82,"k":"O"},{"a":117.5,"b":118.5,"r":83,"s":84,"k":"O"},{"a":117.5,"b":118.5,"r":85,"s":86,"k":"O"},{"a":117.5,"b":118.5,"r":87,"s":89,"k":"O"},
{"a":118.5,"b":119.5,"r":1,"s":2,"k":"C"},{"a":118.5,"b":119.5,"r":5,"s":9,"k":"C"},{"a":118.5,"b":119.5,"r":10,"s":12,"k":"C"},{"a":118.5,"b":119.5,"r":17,"s":18,"k":"C"},{"a":118.5,"b":119.5,"r":29,"s":30,"k":"C"},{"a":118.5,"b":119.5,"r":35,"s":37,"k":"C"},{"a":118.5,"b":119.5,"r":43,"s":44,"k":"C"},{"a":118.5,"b":119.5,"r":45,"s":47,"k":"C"},{"a":118.5,"b":119.5,"r":53,"s":54,"k":"C"},{"a":118.5,"b":119.5,"r":55,"s":56,"k":"C"},{"a":118.5,"b":119.5,"r":57,"s":58,"k":"C"},{"a":118.5,"b":119.5,"r":60,"s":61,"k":"C"},{"a":118.5,"b":119.5,"r":67,"s":69,"k":"C"},{"a":118.5,"b":119.5,"r":71,"s":72,"k":"C"},{"a":118.5,"b":119.5,"r":79,"s":80,"k":"C"},{"a":118.5,"b":119.5,"r":82,"s":83,"k":"C"},
{"a":118.5,"b":119.5,"r":2,"s":3,"k":"B"},{"a":118.5,"b":119.5,"r":4,"s":5,"k":"B"},{"a":118.5,"b":119.5,"r":15,"s":16,"k":"B"},{"a":118.5,"b":119.5,"r":19,"s":20,"k":"B"},{"a":118.5,"b":119.5,"r":25,"s":26,"k":"B"},{"a":118.5,"b":119.5,"r":48,"s":49,"k":"B"},{"a":118.5,"b":119.5,"r":52,"s":53,"k":"B"},{"a":118.5,"b":119.5,"r":61,"s":62,"k":"B"},
{"a":118.5,"b":119.5,"r":22,"s":23,"k":"O"},{"a":118.5,"b":119.5,"r":26,"s":27,"k":"O"},{"a":118.5,"b":119.5,"r":34,"s":35,"k":"O"},{"a":118.5,"b":119.5,"r":39,"s":41,"k":"O"},{"a":118.5,"b":119.5,"r":42,"s":43,"k":"O"},{"a":118.5,"b":119.5,"r":44,"s":45,"k":"O"},{"a":118.5,"b":119.5,"r":49,"s":52,"k":"O"},{"a":118.5,"b":119.5,"r":56,"s":57,"k":"O"},{"a":118.5,"b":119.5,"r":58,"s":60,"k":"O"},{"a":118.5,"b":119.5,"r":62,"s":63,"k":"O"},{"a":118.5,"b":119.5,"r":66,"s":67,"k":"O"},{"a":118.5,"b":119.5,"r":69,"s":71,"k":"O"},{"a":118.5,"b":119.5,"r":72,"s":73,"k":"O"},{"a":118.5,"b":119.5,"r":75,"s":76,"k":"O"},{"a":118.5,"b":119.5,"r":77,"s":78,"k":"O"},{"a":118.5,"b":119.5,"r":80,"s":82,"k":"O"},{"a":118.5,"b":119.5,"r":83,"s":89,"k":"O"},{"a":118.5,"b":119.5,"r":90,"s":92,"k":"O"},
{"a":120.5,"b":121.5,"r":0,"s":5,"k":"B"},{"a":120.5,"b":121.5,"r":12,"s":15,"k":"B"},{"a":120.5,"b":121.5,"r":16,"s":18,"k":"B"},{"a":120.5,"b":121.5,"r":20,"s":22,"k":"B"},{"a":120.5,"b":121.5,"r":23,"s":24,"k":"B"},{"a":120.5,"b":121.5,"r":27,"s":28,"k":"B"},{"a":120.5,"b":121.5,"r":30,"s":31,"k":"B"},{"a":120.5,"b":121.5,"r":32,"s":35,"k":"B"},{"a":120.5,"b":121.5,"r":37,"s":39,"k":"B"},{"a":120.5,"b":121.5,"r":41,"s":42,"k":"B"},{"a":120.5,"b":121.5,"r":44,"s":45,"k":"B"},{"a":120.5,"b":121.5,"r":47,"s":48,"k":"B"},{"a":120.5,"b":121.5,"r":53,"s":55,"k":"B"},{"a":120.5,"b":121.5,"r":56,"s":57,"k":"B"},{"a":120.5,"b":121.5,"r":58,"s":59,"k":"B"},{"a":120.5,"b":121.5,"r":64,"s":66,"k":"B"},{"a":120.5,"b":121.5,"r":74,"s":77,"k":"B"},{"a":120.5,"b":121.5,"r":78,"s":79,"k":"B"},{"a":120.5,"b":121.5,"r":87,"s":89,"k":"B"},{"a":120.5,"b":121.5,"r":62,"s":63,"k":"C"},
{"a":121.5,"b":122.5,"r":0,"s":14,"k":"B"},{"a":121.5,"b":122.5,"r":17,"s":18,"k":"B"},{"a":121.5,"b":122.5,"r":19,"s":20,"k":"B"},{"a":121.5,"b":122.5,"r":22,"s":23,"k":"B"},{"a":121.5,"b":122.5,"r":25,"s":35,"k":"B"},{"a":121.5,"b":122.5,"r":37,"s":39,"k":"B"},{"a":121.5,"b":122.5,"r":40,"s":41,"k":"B"},{"a":121.5,"b":122.5,"r":42,"s":44,"k":"B"},{"a":121.5,"b":122.5,"r":45,"s":46,"k":"B"},{"a":121.5,"b":122.5,"r":48,"s":50,"k":"B"},{"a":121.5,"b":122.5,"r":51,"s":52,"k":"B"},{"a":121.5,"b":122.5,"r":53,"s":54,"k":"B"},{"a":121.5,"b":122.5,"r":55,"s":56,"k":"B"},{"a":121.5,"b":122.5,"r":57,"s":59,"k":"B"},{"a":121.5,"b":122.5,"r":61,"s":62,"k":"B"},{"a":121.5,"b":122.5,"r":63,"s":66,"k":"B"},{"a":121.5,"b":122.5,"r":70,"s":72,"k":"B"},{"a":121.5,"b":122.5,"r":75,"s":76,"k":"B"},{"a":121.5,"b":122.5,"r":81,"s":82,"k":"B"},{"a":121.5,"b":122.5,"r":87,"s":92,"k":"B"},{"a":121.5,"b":122.5,"r":39,"s":40,"k":"C"},{"a":121.5,"b":122.5,"r":52,"s":53,"k":"C"},{"a":121.5,"b":122.5,"r":62,"s":63,"k":"C"},{"a":121.5,"b":122.5,"r":66,"s":67,"k":"C"},{"a":121.5,"b":122.5,"r":82,"s":83,"k":"O"},
{"a":122.5,"b":123.5,"r":26,"s":27,"k":"B"},{"a":122.5,"b":123.5,"r":51,"s":52,"k":"B"},{"a":122.5,"b":123.5,"r":62,"s":63,"k":"B"},{"a":122.5,"b":123.5,"r":87,"s":89,"k":"B"},{"a":123.5,"b":124.5,"r":37,"s":38,"k":"O"},
{"a":124.5,"b":125.5,"r":29,"s":30,"k":"O"},{"a":124.5,"b":125.5,"r":31,"s":32,"k":"O"},{"a":124.5,"b":125.5,"r":35,"s":37,"k":"O"},{"a":124.5,"b":125.5,"r":45,"s":47,"k":"O"},{"a":124.5,"b":125.5,"r":48,"s":49,"k":"O"},{"a":124.5,"b":125.5,"r":52,"s":54,"k":"O"},{"a":124.5,"b":125.5,"r":55,"s":56,"k":"O"},{"a":124.5,"b":125.5,"r":57,"s":58,"k":"O"},{"a":124.5,"b":125.5,"r":59,"s":63,"k":"O"},{"a":124.5,"b":125.5,"r":66,"s":69,"k":"O"},{"a":124.5,"b":125.5,"r":71,"s":74,"k":"O"},{"a":124.5,"b":125.5,"r":75,"s":76,"k":"O"},{"a":124.5,"b":125.5,"r":77,"s":78,"k":"O"},{"a":124.5,"b":125.5,"r":79,"s":80,"k":"O"},{"a":124.5,"b":125.5,"r":81,"s":87,"k":"O"},{"a":124.5,"b":125.5,"r":89,"s":92,"k":"O"},{"a":126.5,"b":127.5,"r":86,"s":87,"k":"O"},
{"a":130.5,"b":131.5,"r":0,"s":1,"k":"C"},{"a":130.5,"b":131.5,"r":2,"s":5,"k":"C"},{"a":130.5,"b":131.5,"r":7,"s":9,"k":"C"},{"a":130.5,"b":131.5,"r":14,"s":15,"k":"C"},{"a":130.5,"b":131.5,"r":16,"s":17,"k":"C"},{"a":130.5,"b":131.5,"r":18,"s":19,"k":"C"},{"a":130.5,"b":131.5,"r":24,"s":27,"k":"C"},{"a":130.5,"b":131.5,"r":30,"s":31,"k":"C"},{"a":130.5,"b":131.5,"r":32,"s":33,"k":"C"},{"a":130.5,"b":131.5,"r":39,"s":40,"k":"C"},{"a":130.5,"b":131.5,"r":41,"s":43,"k":"C"},{"a":130.5,"b":131.5,"r":45,"s":47,"k":"C"},{"a":130.5,"b":131.5,"r":53,"s":54,"k":"C"},{"a":130.5,"b":131.5,"r":66,"s":67,"k":"C"},{"a":130.5,"b":131.5,"r":69,"s":70,"k":"C"},{"a":130.5,"b":131.5,"r":71,"s":72,"k":"C"},{"a":130.5,"b":131.5,"r":74,"s":77,"k":"C"},{"a":130.5,"b":131.5,"r":78,"s":79,"k":"C"},{"a":130.5,"b":131.5,"r":80,"s":81,"k":"C"},{"a":130.5,"b":131.5,"r":86,"s":87,"k":"O"},
{"a":132.5,"b":133.5,"r":3,"s":4,"k":"C"},{"a":132.5,"b":133.5,"r":43,"s":44,"k":"C"},{"a":132.5,"b":133.5,"r":29,"s":30,"k":"O"},{"a":132.5,"b":133.5,"r":31,"s":32,"k":"O"},{"a":132.5,"b":133.5,"r":35,"s":37,"k":"O"},{"a":132.5,"b":133.5,"r":45,"s":47,"k":"O"},{"a":132.5,"b":133.5,"r":48,"s":49,"k":"O"},{"a":132.5,"b":133.5,"r":52,"s":54,"k":"O"},{"a":132.5,"b":133.5,"r":55,"s":56,"k":"O"},{"a":132.5,"b":133.5,"r":57,"s":58,"k":"O"},{"a":132.5,"b":133.5,"r":59,"s":63,"k":"O"},{"a":132.5,"b":133.5,"r":66,"s":69,"k":"O"},{"a":132.5,"b":133.5,"r":71,"s":74,"k":"O"},{"a":132.5,"b":133.5,"r":75,"s":76,"k":"O"},{"a":132.5,"b":133.5,"r":77,"s":78,"k":"O"},{"a":132.5,"b":133.5,"r":79,"s":80,"k":"O"},{"a":132.5,"b":133.5,"r":81,"s":87,"k":"O"},{"a":132.5,"b":133.5,"r":89,"s":92,"k":"O"},
{"a":139.5,"b":141.5,"r":85,"s":86,"k":"C"},{"a":140.5,"b":141.5,"r":2,"s":4,"k":"C"},{"a":140.5,"b":141.5,"r":15,"s":16,"k":"C"},{"a":140.5,"b":141.5,"r":27,"s":28,"k":"C"},{"a":140.5,"b":141.5,"r":39,"s":40,"k":"C"},{"a":140.5,"b":141.5,"r":42,"s":43,"k":"C"},{"a":140.5,"b":141.5,"r":45,"s":46,"k":"C"},{"a":140.5,"b":141.5,"r":47,"s":48,"k":"C"},{"a":140.5,"b":141.5,"r":49,"s":50,"k":"C"},{"a":140.5,"b":141.5,"r":62,"s":63,"k":"C"},{"a":140.5,"b":141.5,"r":73,"s":75,"k":"C"},{"a":140.5,"b":141.5,"r":81,"s":84,"k":"C"},{"a":140.5,"b":141.5,"r":90,"s":92,"k":"C"},
{"a":143.5,"b":144.5,"r":18,"s":19,"k":"B"},{"a":142.5,"b":144.5,"r":29,"s":30,"k":"B"},{"a":142.5,"b":144.5,"r":31,"s":32,"k":"B"},{"a":142.5,"b":144.5,"r":35,"s":37,"k":"B"},{"a":142.5,"b":144.5,"r":43,"s":44,"k":"B"},{"a":142.5,"b":144.5,"r":45,"s":47,"k":"B"},{"a":142.5,"b":144.5,"r":48,"s":49,"k":"B"},{"a":142.5,"b":144.5,"r":52,"s":54,"k":"B"},{"a":142.5,"b":144.5,"r":55,"s":56,"k":"B"},{"a":142.5,"b":144.5,"r":57,"s":58,"k":"B"},{"a":142.5,"b":144.5,"r":59,"s":63,"k":"B"},{"a":142.5,"b":144.5,"r":66,"s":68,"k":"B"},{"a":143.5,"b":144.5,"r":68,"s":69,"k":"B"},{"a":142.5,"b":144.5,"r":71,"s":74,"k":"B"},{"a":142.5,"b":144.5,"r":75,"s":76,"k":"B"},{"a":143.5,"b":144.5,"r":76,"s":77,"k":"B"},{"a":142.5,"b":144.5,"r":77,"s":78,"k":"B"},{"a":142.5,"b":144.5,"r":79,"s":80,"k":"B"},{"a":143.5,"b":144.5,"r":80,"s":81,"k":"B"},{"a":142.5,"b":144.5,"r":81,"s":92,"k":"B"},{"a":143.5,"b":144.5,"r":54,"s":55,"k":"O"},{"a":142.5,"b":143.5,"r":68,"s":69,"k":"O"},{"a":142.5,"b":143.5,"r":80,"s":81,"k":"O"},
{"a":185.5,"b":186.5,"r":0,"s":1,"k":"C"},{"a":185.5,"b":186.5,"r":2,"s":3,"k":"C"},{"a":185.5,"b":186.5,"r":5,"s":6,"k":"C"},{"a":185.5,"b":186.5,"r":11,"s":12,"k":"C"},{"a":185.5,"b":186.5,"r":19,"s":20,"k":"C"},{"a":185.5,"b":186.5,"r":21,"s":22,"k":"C"},{"a":185.5,"b":186.5,"r":30,"s":31,"k":"C"},{"a":185.5,"b":186.5,"r":33,"s":35,"k":"C"},{"a":185.5,"b":186.5,"r":39,"s":40,"k":"C"},{"a":185.5,"b":186.5,"r":41,"s":42,"k":"C"},{"a":185.5,"b":186.5,"r":49,"s":50,"k":"C"},{"a":185.5,"b":186.5,"r":51,"s":52,"k":"C"},{"a":185.5,"b":186.5,"r":87,"s":89,"k":"C"},
{"a":185.5,"b":186.5,"r":43,"s":44,"k":"O"},{"a":185.5,"b":186.5,"r":67,"s":68,"k":"O"},{"a":185.5,"b":186.5,"r":70,"s":71,"k":"O"},{"a":185.5,"b":186.5,"r":75,"s":76,"k":"O"},{"a":185.5,"b":186.5,"r":77,"s":78,"k":"O"},{"a":185.5,"b":186.5,"r":79,"s":80,"k":"O"},{"a":185.5,"b":186.5,"r":86,"s":87,"k":"O"},{"a":185.5,"b":187.5,"r":90,"s":92,"k":"O"},
{"a":186.5,"b":187.5,"r":2,"s":3,"k":"C"},{"a":186.5,"b":187.5,"r":6,"s":7,"k":"C"},{"a":186.5,"b":187.5,"r":19,"s":20,"k":"C"},{"a":186.5,"b":187.5,"r":31,"s":32,"k":"C"},{"a":186.5,"b":187.5,"r":37,"s":38,"k":"C"},{"a":186.5,"b":187.5,"r":39,"s":40,"k":"C"},{"a":186.5,"b":187.5,"r":46,"s":47,"k":"C"},{"a":186.5,"b":187.5,"r":48,"s":49,"k":"C"},{"a":186.5,"b":187.5,"r":51,"s":52,"k":"C"},{"a":186.5,"b":187.5,"r":53,"s":54,"k":"C"},{"a":186.5,"b":187.5,"r":57,"s":58,"k":"C"},{"a":186.5,"b":187.5,"r":60,"s":61,"k":"C"},{"a":186.5,"b":187.5,"r":66,"s":68,"k":"C"},{"a":186.5,"b":187.5,"r":69,"s":71,"k":"C"},{"a":186.5,"b":187.5,"r":72,"s":73,"k":"C"},{"a":186.5,"b":187.5,"r":77,"s":78,"k":"C"},{"a":186.5,"b":187.5,"r":79,"s":80,"k":"C"},{"a":186.5,"b":187.5,"r":85,"s":87,"k":"C"},
{"a":186.5,"b":187.5,"r":0,"s":1,"k":"B"},{"a":186.5,"b":187.5,"r":5,"s":6,"k":"B"},{"a":186.5,"b":187.5,"r":10,"s":12,"k":"B"},{"a":186.5,"b":187.5,"r":29,"s":30,"k":"B"},{"a":186.5,"b":187.5,"r":45,"s":46,"k":"B"},{"a":186.5,"b":187.5,"r":49,"s":50,"k":"B"},{"a":186.5,"b":187.5,"r":52,"s":53,"k":"B"},{"a":186.5,"b":187.5,"r":55,"s":56,"k":"B"},{"a":186.5,"b":187.5,"r":61,"s":62,"k":"B"},{"a":186.5,"b":187.5,"r":64,"s":65,"k":"B"},{"a":186.5,"b":187.5,"r":68,"s":69,"k":"B"},{"a":186.5,"b":187.5,"r":75,"s":76,"k":"B"},{"a":186.5,"b":187.5,"r":81,"s":82,"k":"B"},{"a":186.5,"b":187.5,"r":89,"s":90,"k":"B"},
{"a":186.5,"b":187.5,"r":13,"s":14,"k":"O"},{"a":186.5,"b":187.5,"r":16,"s":18,"k":"O"},{"a":186.5,"b":187.5,"r":25,"s":26,"k":"O"},{"a":186.5,"b":187.5,"r":27,"s":29,"k":"O"},{"a":186.5,"b":187.5,"r":30,"s":31,"k":"O"},{"a":186.5,"b":187.5,"r":33,"s":34,"k":"O"},{"a":186.5,"b":187.5,"r":38,"s":39,"k":"O"},{"a":186.5,"b":187.5,"r":47,"s":48,"k":"O"},{"a":186.5,"b":187.5,"r":58,"s":59,"k":"O"},{"a":186.5,"b":187.5,"r":63,"s":64,"k":"O"},{"a":186.5,"b":187.5,"r":65,"s":66,"k":"O"},{"a":186.5,"b":187.5,"r":73,"s":74,"k":"O"},{"a":186.5,"b":187.5,"r":80,"s":81,"k":"O"},{"a":186.5,"b":187.5,"r":82,"s":83,"k":"O"},{"a":186.5,"b":187.5,"r":84,"s":85,"k":"O"},{"a":186.5,"b":187.5,"r":87,"s":88,"k":"O"},
{"a":195.5,"b":196.5,"r":61,"s":62,"k":"O"},{"a":197.5,"b":198.5,"r":32,"s":33,"k":"O"},{"a":197.5,"b":199.5,"r":78,"s":79,"k":"O"},{"a":197.5,"b":198.5,"r":90,"s":92,"k":"O"},{"a":200.5,"b":201.5,"r":41,"s":42,"k":"C"},{"a":200.5,"b":201.5,"r":74,"s":75,"k":"C"},{"a":203.5,"b":204.5,"r":78,"s":79,"k":"O"},{"a":203.5,"b":204.5,"r":90,"s":92,"k":"B"},{"a":204.5,"b":205.5,"r":89,"s":90,"k":"C"},{"a":205.5,"b":206.5,"r":89,"s":90,"k":"O"},{"a":208.5,"b":209.5,"r":30,"s":31,"k":"O"},{"a":209.5,"b":210.5,"r":41,"s":42,"k":"O"},{"a":209.5,"b":210.5,"r":74,"s":75,"k":"O"},{"a":210.5,"b":211.5,"r":89,"s":90,"k":"O"},{"a":212.5,"b":213.5,"r":89,"s":90,"k":"O"},{"a":212.5,"b":213.5,"r":0,"s":1,"k":"C"},{"a":213.5,"b":214.5,"r":74,"s":75,"k":"O"},{"a":214.5,"b":215.5,"r":71,"s":72,"k":"O"},{"a":214.5,"b":215.5,"r":87,"s":89,"k":"B"},
{"a":215.5,"b":216.5,"r":3,"s":7,"k":"C"},{"a":215.5,"b":216.5,"r":8,"s":9,"k":"C"},{"a":215.5,"b":216.5,"r":10,"s":13,"k":"C"},{"a":215.5,"b":216.5,"r":14,"s":15,"k":"C"},{"a":215.5,"b":216.5,"r":16,"s":19,"k":"C"},{"a":215.5,"b":216.5,"r":20,"s":22,"k":"C"},{"a":215.5,"b":216.5,"r":26,"s":29,"k":"C"},{"a":215.5,"b":216.5,"r":32,"s":34,"k":"C"},{"a":215.5,"b":216.5,"r":38,"s":39,"k":"C"},{"a":215.5,"b":216.5,"r":40,"s":43,"k":"C"},{"a":215.5,"b":216.5,"r":47,"s":48,"k":"C"},{"a":215.5,"b":216.5,"r":49,"s":52,"k":"C"},{"a":215.5,"b":216.5,"r":54,"s":55,"k":"C"},{"a":215.5,"b":216.5,"r":56,"s":57,"k":"C"},{"a":215.5,"b":216.5,"r":64,"s":65,"k":"C"},{"a":215.5,"b":216.5,"r":74,"s":75,"k":"C"},{"a":215.5,"b":216.5,"r":76,"s":77,"k":"C"},{"a":215.5,"b":216.5,"r":78,"s":79,"k":"C"},{"a":215.5,"b":216.5,"r":80,"s":81,"k":"C"},
{"a":215.5,"b":216.5,"r":0,"s":1,"k":"B"},{"a":215.5,"b":216.5,"r":2,"s":3,"k":"B"},{"a":215.5,"b":216.5,"r":9,"s":10,"k":"B"},{"a":215.5,"b":216.5,"r":13,"s":14,"k":"B"},{"a":215.5,"b":216.5,"r":15,"s":16,"k":"B"},{"a":215.5,"b":216.5,"r":19,"s":20,"k":"B"},{"a":215.5,"b":216.5,"r":22,"s":24,"k":"B"},{"a":215.5,"b":216.5,"r":25,"s":26,"k":"B"},{"a":215.5,"b":216.5,"r":30,"s":31,"k":"B"},{"a":215.5,"b":216.5,"r":39,"s":40,"k":"B"},{"a":215.5,"b":216.5,"r":44,"s":45,"k":"B"},{"a":215.5,"b":216.5,"r":58,"s":59,"k":"B"},{"a":215.5,"b":216.5,"r":65,"s":66,"k":"B"},{"a":215.5,"b":216.5,"r":75,"s":76,"k":"B"},{"a":215.5,"b":216.5,"r":69,"s":71,"k":"O"},{"a":215.5,"b":216.5,"r":87,"s":92,"k":"O"},
{"a":220.5,"b":221.5,"r":0,"s":1,"k":"B"},{"a":220.5,"b":221.5,"r":2,"s":3,"k":"B"},{"a":220.5,"b":221.5,"r":9,"s":10,"k":"B"},{"a":220.5,"b":221.5,"r":13,"s":14,"k":"B"},{"a":220.5,"b":221.5,"r":15,"s":16,"k":"B"},{"a":220.5,"b":221.5,"r":19,"s":20,"k":"B"},{"a":220.5,"b":221.5,"r":22,"s":24,"k":"B"},{"a":220.5,"b":221.5,"r":25,"s":26,"k":"B"},{"a":220.5,"b":221.5,"r":30,"s":31,"k":"B"},{"a":220.5,"b":221.5,"r":39,"s":40,"k":"B"},{"a":220.5,"b":221.5,"r":44,"s":45,"k":"B"},{"a":220.5,"b":221.5,"r":58,"s":59,"k":"B"},{"a":220.5,"b":221.5,"r":65,"s":66,"k":"B"},{"a":220.5,"b":221.5,"r":75,"s":76,"k":"B"},{"a":220.5,"b":221.5,"r":69,"s":71,"k":"O"},{"a":220.5,"b":221.5,"r":87,"s":92,"k":"O"},
{"a":221.5,"b":222.5,"r":11,"s":13,"k":"C"},{"a":221.5,"b":222.5,"r":19,"s":20,"k":"C"},{"a":221.5,"b":222.5,"r":25,"s":26,"k":"C"},{"a":221.5,"b":222.5,"r":29,"s":30,"k":"C"},{"a":221.5,"b":222.5,"r":42,"s":43,"k":"C"},{"a":221.5,"b":222.5,"r":58,"s":59,"k":"C"},{"a":221.5,"b":222.5,"r":71,"s":72,"k":"O"},{"a":221.5,"b":222.5,"r":87,"s":89,"k":"B"},
{"a":223.5,"b":224.5,"r":74,"s":75,"k":"O"},{"a":224.5,"b":225.5,"r":89,"s":90,"k":"O"},{"a":226.5,"b":227.5,"r":89,"s":90,"k":"O"},{"a":227.5,"b":228.5,"r":41,"s":42,"k":"O"},{"a":227.5,"b":228.5,"r":74,"s":75,"k":"O"},{"a":227.5,"b":228.5,"r":89,"s":90,"k":"C"},
{"a":228.5,"b":229.5,"r":5,"s":6,"k":"C"},{"a":228.5,"b":229.5,"r":10,"s":12,"k":"C"},{"a":228.5,"b":229.5,"r":17,"s":18,"k":"C"},{"a":228.5,"b":229.5,"r":26,"s":28,"k":"C"},{"a":228.5,"b":229.5,"r":44,"s":45,"k":"C"},{"a":228.5,"b":229.5,"r":47,"s":48,"k":"C"},{"a":228.5,"b":229.5,"r":71,"s":72,"k":"C"},{"a":228.5,"b":229.5,"r":30,"s":31,"k":"O"},{"a":228.5,"b":229.5,"r":89,"s":90,"k":"O"},
{"a":229.5,"b":230.5,"r":31,"s":32,"k":"C"},{"a":229.5,"b":230.5,"r":35,"s":37,"k":"C"},{"a":229.5,"b":230.5,"r":43,"s":44,"k":"C"},{"a":229.5,"b":230.5,"r":45,"s":47,"k":"C"},{"a":229.5,"b":230.5,"r":48,"s":49,"k":"C"},{"a":229.5,"b":230.5,"r":52,"s":54,"k":"C"},{"a":229.5,"b":230.5,"r":55,"s":56,"k":"C"},{"a":229.5,"b":230.5,"r":57,"s":58,"k":"C"},{"a":229.5,"b":230.5,"r":59,"s":63,"k":"C"},{"a":229.5,"b":230.5,"r":66,"s":69,"k":"C"},{"a":229.5,"b":230.5,"r":71,"s":74,"k":"C"},{"a":229.5,"b":230.5,"r":77,"s":78,"k":"C"},{"a":229.5,"b":230.5,"r":79,"s":80,"k":"C"},{"a":229.5,"b":230.5,"r":81,"s":90,"k":"C"},
{"a":231.5,"b":232.5,"r":89,"s":90,"k":"O"},{"a":233.5,"b":234.5,"r":78,"s":79,"k":"O"},{"a":233.5,"b":234.5,"r":90,"s":92,"k":"B"}
]},
"mark":{"type":"rect","strokeWidth":0},
"encoding":{
"x":{"field":"a","type":"quantitative","title":null,"axis":{"orient":"top","values":[0,20,40,60,80,100,120,140,160,180,200,220,240,260],"title":null,"domain":false,"ticks":false,"grid":true,"gridColor":"#eeeeee","gridWidth":1.5,"labelColor":"#dddddd","labelFont":"DejaVu Sans","labelFontSize":18,"labelAlign":"left","labelBaseline":"middle","labelPadding":-7,"labelOffset":{"condition":{"test":"datum.value<10","value":3},"value":8},"labelOverlap":false,"labelFlush":false,"labelBound":false,"zindex":0}},
"x2":{"field":"b"},
"y":{"field":"r","type":"quantitative","title":null,"axis":null},
"y2":{"field":"s"},
"fill":{"field":"k","type":"nominal","legend":null,"sort":null,"scale":{"domain":["K","N","G","P","O","B","C"],"range":["#231f20","#00a651","#aaaaaa","#da6fab","#f15a24","#0072bc","#00b9f2"]}}
}}
]}
